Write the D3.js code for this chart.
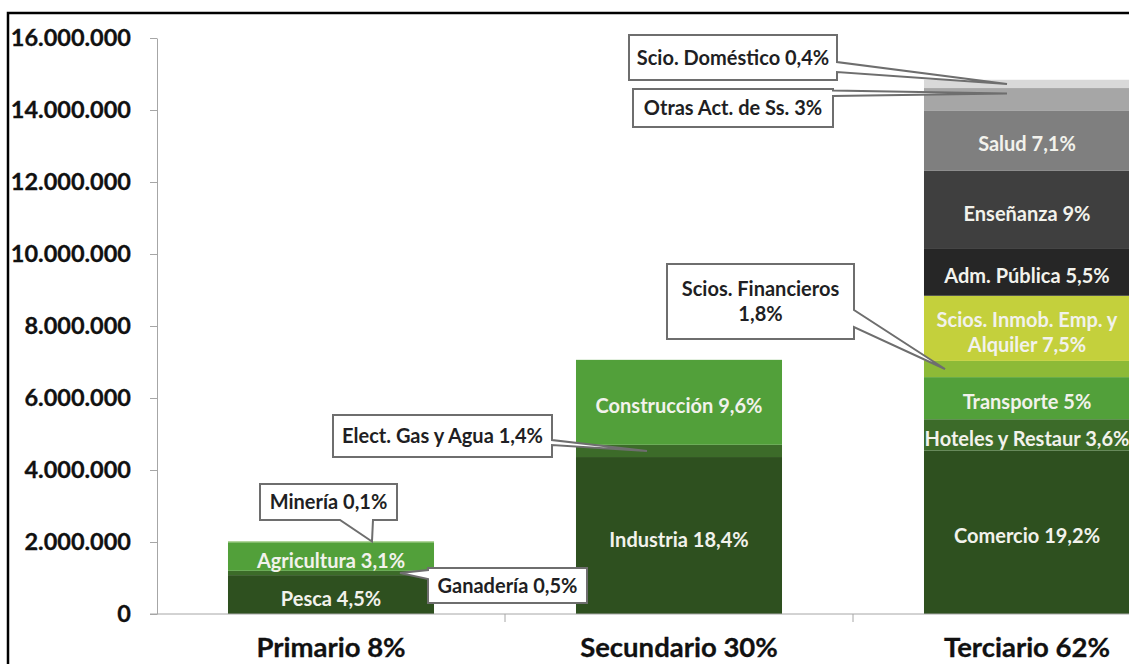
<!DOCTYPE html>
<html>
<head>
<meta charset="utf-8">
<script src="https://cdn.jsdelivr.net/npm/d3@7"></script>
<style>
  body { margin: 0; background: #fff; }
  svg { display: block; }
  text { font-family: Lato, "Open Sans", sans-serif; font-weight: 700; }
</style>
</head>
<body>
<div id="chart"></div>
<script>
// sectors and their activity breakdown (employed people)
var sectors = ['Primario 8%', 'Secundario 30%', 'Terciario 62%'];

var primarioNames = ['Pesca 4,5%', 'Ganadería 0,5%', 'Agricultura 3,1%', 'Minería 0,1%'];
var primarioValues = [1080000, 120000, 790000, 25000];

var secundarioNames = ['Industria 18,4%', 'Elect. Gas y Agua 1,4%', 'Construcción 9,6%'];
var secundarioValues = [4360000, 340000, 2360000];

var terciarioNames = ['Comercio 19,2%', 'Hoteles y Restaur 3,6%', 'Transporte 5%',
  'Scios. Financieros\n1,8%', 'Scios. Inmob. Emp. y\nAlquiler 7,5%', 'Adm. Pública 5,5%',
  'Enseñanza 9%', 'Salud 7,1%', 'Otras Act. de Ss. 3%', 'Scio. Doméstico 0,4%'];
var terciarioValues = [4540000, 870000, 1170000, 450000, 1810000, 1300000,
  2180000, 1670000, 620000, 230000];

var yTicks = [0, 2000000, 4000000, 6000000, 8000000, 10000000, 12000000, 14000000, 16000000];

// fill colours per activity
var fills = {
  'Pesca 4,5%': '#2e501f',
  'Ganadería 0,5%': '#3c6b29',
  'Agricultura 3,1%': '#52a03a',
  'Minería 0,1%': '#6fb248',
  'Industria 18,4%': '#2e501f',
  'Elect. Gas y Agua 1,4%': '#3c6b29',
  'Construcción 9,6%': '#52a03a',
  'Comercio 19,2%': '#2e501f',
  'Hoteles y Restaur 3,6%': '#3c6b29',
  'Transporte 5%': '#52a03a',
  'Scios. Financieros\n1,8%': '#8dba37',
  'Scios. Inmob. Emp. y\nAlquiler 7,5%': '#c4d03c',
  'Adm. Pública 5,5%': '#262626',
  'Enseñanza 9%': '#3f3f3f',
  'Salud 7,1%': '#7f7f7f',
  'Otras Act. de Ss. 3%': '#a6a6a6',
  'Scio. Doméstico 0,4%': '#d9d9d9'
};

// callout boxes: [x, y, w, h], side the pointer leaves from, pointer base, tip offset in band, tip position in segment
var callouts = {
  'Scio. Doméstico 0,4%': { box: [629, 35, 208, 45], side: 'right', base: [62, 72], dx: 83, frac: 0.5 },
  'Otras Act. de Ss. 3%': { box: [633, 89, 200, 38], side: 'right', base: [90.5, 96], dx: 83, frac: 0.75 },
  'Minería 0,1%': { box: [260, 484, 137, 36], side: 'bottom', base: [340, 373], dx: 144, frac: 1 },
  'Ganadería 0,5%': { box: [428, 568, 159, 35], side: 'left', base: [570, 579], dx: 172, frac: 0.5 },
  'Elect. Gas y Agua 1,4%': { box: [333, 415, 219, 42], side: 'right', base: [440, 445], dx: 71, frac: 0.5 },
  'Scios. Financieros\n1,8%': { box: [667, 264, 187, 75], side: 'right', base: [310, 327], dx: 21, frac: 0.5 }
};

var width = 1129, height = 664;

var svg = d3.select('#chart').append('svg')
  .attr('width', width)
  .attr('height', height);

var x = d3.scaleBand().domain(sectors).range([157, 1201])
  .paddingInner(0.408).paddingOuter(0.204);
var y = d3.scaleLinear().domain([0, 16000000]).range([614, 38]);

// flatten into stacked segments
var segments = [];
[[primarioNames, primarioValues], [secundarioNames, secundarioValues], [terciarioNames, terciarioValues]]
  .forEach(function (pair, i) {
    var acc = 0;
    pair[0].forEach(function (name, j) {
      segments.push({ sector: sectors[i], name: name, value: pair[1][j], y0: acc, y1: acc + pair[1][j] });
      acc += pair[1][j];
    });
  });

// frame
svg.append('rect')
  .attr('x', 8).attr('y', 13)
  .attr('width', 1400).attr('height', 900)
  .attr('fill', 'none')
  .attr('stroke', '#000')
  .attr('stroke-width', 2.5);

// y axis
var fmt = d3.formatLocale({ decimal: ',', thousands: '.', grouping: [3], currency: ['', ''] }).format(',');
var yAxis = d3.axisLeft(y).tickValues(yTicks).tickFormat(fmt)
  .tickSize(7).tickSizeOuter(0).tickPadding(19);

var gy = svg.append('g')
  .attr('transform', 'translate(157,0)')
  .call(yAxis);
gy.select('.domain').attr('stroke', '#a6a6a6');
gy.selectAll('.tick line').attr('stroke', '#a6a6a6');
gy.selectAll('.tick text')
  .attr('fill', '#111')
  .attr('stroke', '#111')
  .attr('stroke-width', 0.3)
  .style('font-size', '23.5px');

// bars
svg.append('g').selectAll('rect')
  .data(segments)
  .enter()
  .append('rect')
  .attr('x', function (d) { return x(d.sector); })
  .attr('y', function (d) { return y(d.y1); })
  .attr('width', x.bandwidth())
  .attr('height', function (d) { return y(d.y0) - y(d.y1); })
  .attr('fill', function (d) { return fills[d.name]; });

// x axis line and category separators
var x0 = x.range()[0];
svg.append('line')
  .attr('x1', 150).attr('x2', x.range()[1])
  .attr('y1', y(0)).attr('y2', y(0))
  .attr('stroke', '#a6a6a6');
svg.append('g').selectAll('line')
  .data(d3.range(1, sectors.length + 1))
  .enter()
  .append('line')
  .attr('x1', function (i) { return x0 + i * x.step(); })
  .attr('x2', function (i) { return x0 + i * x.step(); })
  .attr('y1', y(0)).attr('y2', y(0) + 8)
  .attr('stroke', '#a6a6a6');

svg.append('g').selectAll('text')
  .data(sectors)
  .enter()
  .append('text')
  .attr('x', function (d) { return x(d) + x.bandwidth() / 2; })
  .attr('y', 657)
  .attr('text-anchor', 'middle')
  .attr('fill', '#111')
  .attr('stroke', '#111')
  .attr('stroke-width', 0.3)
  .style('font-size', '27.5px')
  .text(function (d) { return d; });

// labels inside the bars
var lineH = 25.6;
svg.append('g').selectAll('text')
  .data(segments.filter(function (d) { return !callouts[d.name]; }))
  .enter()
  .append('text')
  .attr('text-anchor', 'middle')
  .attr('fill', '#f2f2ec')
  .style('font-size', '20px')
  .each(function (d) {
    var lines = d.name.split('\n');
    var cy = (y(d.y0) + y(d.y1)) / 2 + 4;
    var cx = x(d.sector) + x.bandwidth() / 2;
    var t = d3.select(this);
    lines.forEach(function (l, k) {
      t.append('tspan')
        .attr('x', cx)
        .attr('y', cy + (k - (lines.length - 1) / 2) * lineH)
        .attr('dy', '0.35em')
        .text(l);
    });
  });

// callouts
function calloutPath(c, tip) {
  var b = c.box, bx = b[0], by = b[1], bw = b[2], bh = b[3];
  var p;
  if (c.side === 'right') {
    p = [[bx, by], [bx + bw, by], [bx + bw, c.base[0]], tip, [bx + bw, c.base[1]], [bx + bw, by + bh], [bx, by + bh]];
  } else if (c.side === 'left') {
    p = [[bx, by], [bx + bw, by], [bx + bw, by + bh], [bx, by + bh], [bx, c.base[1]], tip, [bx, c.base[0]]];
  } else {
    p = [[bx, by], [bx + bw, by], [bx + bw, by + bh], [c.base[1], by + bh], tip, [c.base[0], by + bh], [bx, by + bh]];
  }
  return 'M' + p.map(function (q) { return q[0] + ',' + q[1]; }).join('L') + 'Z';
}

var cg = svg.append('g').selectAll('g')
  .data(segments.filter(function (d) { return callouts[d.name]; }))
  .enter()
  .append('g');

cg.append('path')
  .attr('d', function (d) {
    var c = callouts[d.name];
    var tip = [x(d.sector) + c.dx, y(d.y0 + c.frac * d.value)];
    return calloutPath(c, tip);
  })
  .attr('fill', '#fff')
  .attr('stroke', '#6e6e6e')
  .attr('stroke-width', 2)
  .attr('stroke-linejoin', 'miter');

cg.append('text')
  .attr('text-anchor', 'middle')
  .attr('fill', '#1f1f24')
  .style('font-size', '20px')
  .each(function (d) {
    var c = callouts[d.name];
    var lines = d.name.split('\n');
    var cx = c.box[0] + c.box[2] / 2;
    var cy = c.box[1] + c.box[3] / 2;
    var t = d3.select(this);
    lines.forEach(function (l, k) {
      t.append('tspan')
        .attr('x', cx)
        .attr('y', cy + (k - (lines.length - 1) / 2) * lineH)
        .attr('dy', '0.35em')
        .text(l);
    });
  });
</script>
</body>
</html>
